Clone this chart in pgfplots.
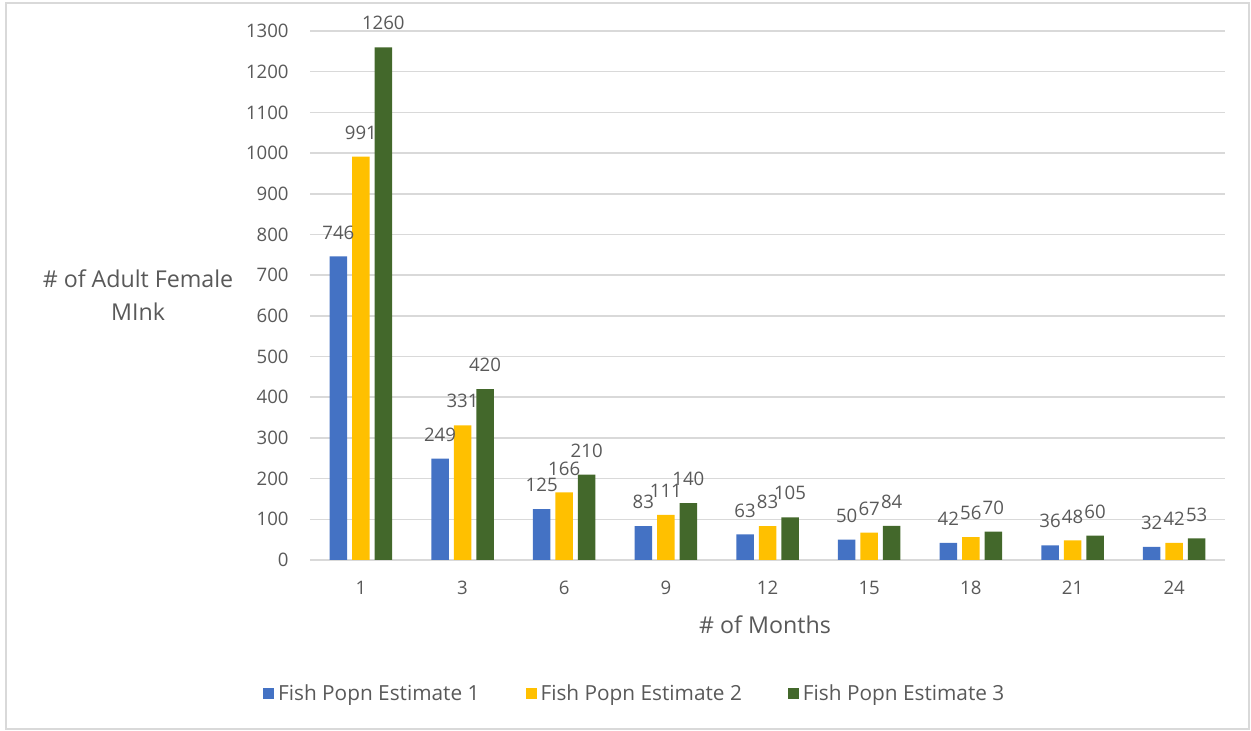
\documentclass[border=0pt]{standalone}
\usepackage{fontspec}
\setmainfont{Open Sans}
\usepackage{pgfplots}
\usepackage{pgfplotstable}
\pgfplotsset{compat=1.18}

\definecolor{est1}{HTML}{4472C4}
\definecolor{est2}{HTML}{FFC000}
\definecolor{est3}{HTML}{43682B}
\definecolor{txt}{HTML}{595959}
\definecolor{gridc}{HTML}{D9D9D9}

% Adult female mink per fish population estimate, by month
\pgfplotstableread{
idx month e1  e2  e3
0   1     746 991 1260
1   3     249 331 420
2   6     125 166 210
3   9     83  111 140
4   12    63  83  105
5   15    50  67  84
6   18    42  56  70
7   21    36  48  60
8   24    32  42  53
}\minkdata

\pgfplotsset{
  mybar/.style={fill=#1, draw=none,
    legend image code/.code={\fill[#1] (0pt,-2.75pt) rectangle (5.5pt,2.75pt);}},
}

\begin{document}
\begin{tikzpicture}
\useasboundingbox (0,0) rectangle (625.5pt,365.5pt);
\draw[gridc, line width=0.75pt] (3pt,1pt) rectangle (624.5pt,364pt);

\begin{axis}[
  at={(155pt,85.5pt)}, anchor=south west,
  scale only axis, width=457.5pt, height=264.5pt,
  ybar=2.5pt, bar width=8.75pt,
  xmin=-0.5, xmax=8.5, ymin=0, ymax=1300,
  xtick=data, xticklabels={1,3,6,9,12,15,18,21,24},
  ytick={0,100,...,1300},
  ymajorgrids, major grid style={gridc, line width=0.75pt},
  axis line style={draw=none}, major tick length=0pt,
  tick label style={font=\fontsize{9.3}{11}\selectfont, text=txt},
  yticklabel style={anchor=east, inner sep=0pt, xshift=-10.5pt},
  xticklabel style={anchor=center, inner sep=0pt, yshift=-14pt},
  /pgf/number format/assume math mode=true,
  /pgf/number format/set thousands separator={},
  nodes near coords,
  every node near coord/.append style={font=\fontsize{9.3}{11}\selectfont,
    text=txt, anchor=center, inner sep=0pt, yshift=12pt},
  clip=false,
  legend columns=3,
  legend style={at={(0.356,-0.253)}, anchor=center, draw=none, fill=none,
    font=\fontsize{10.4}{12}\selectfont, text=txt,
    /tikz/every even column/.append style={column sep=21pt}},
]
\addplot[mybar=est1] table[x=idx, y=e1] {\minkdata};
\addplot[mybar=est2] table[x=idx, y=e2] {\minkdata};
\addplot[mybar=est3] table[x=idx, y=e3] {\minkdata};
\legend{Fish Popn Estimate 1, Fish Popn Estimate 2, Fish Popn Estimate 3}
\end{axis}

\node[anchor=base, text=txt, font=\fontsize{11.6}{14}\selectfont] at (382.5pt,48.75pt) {\# of Months};
\node[anchor=base, text=txt, font=\fontsize{11.6}{14}\selectfont] at (69pt,221.75pt) {\# of Adult Female};
\node[anchor=base, text=txt, font=\fontsize{11.6}{14}\selectfont] at (69pt,205.25pt) {MInk};
\end{tikzpicture}
\end{document}
